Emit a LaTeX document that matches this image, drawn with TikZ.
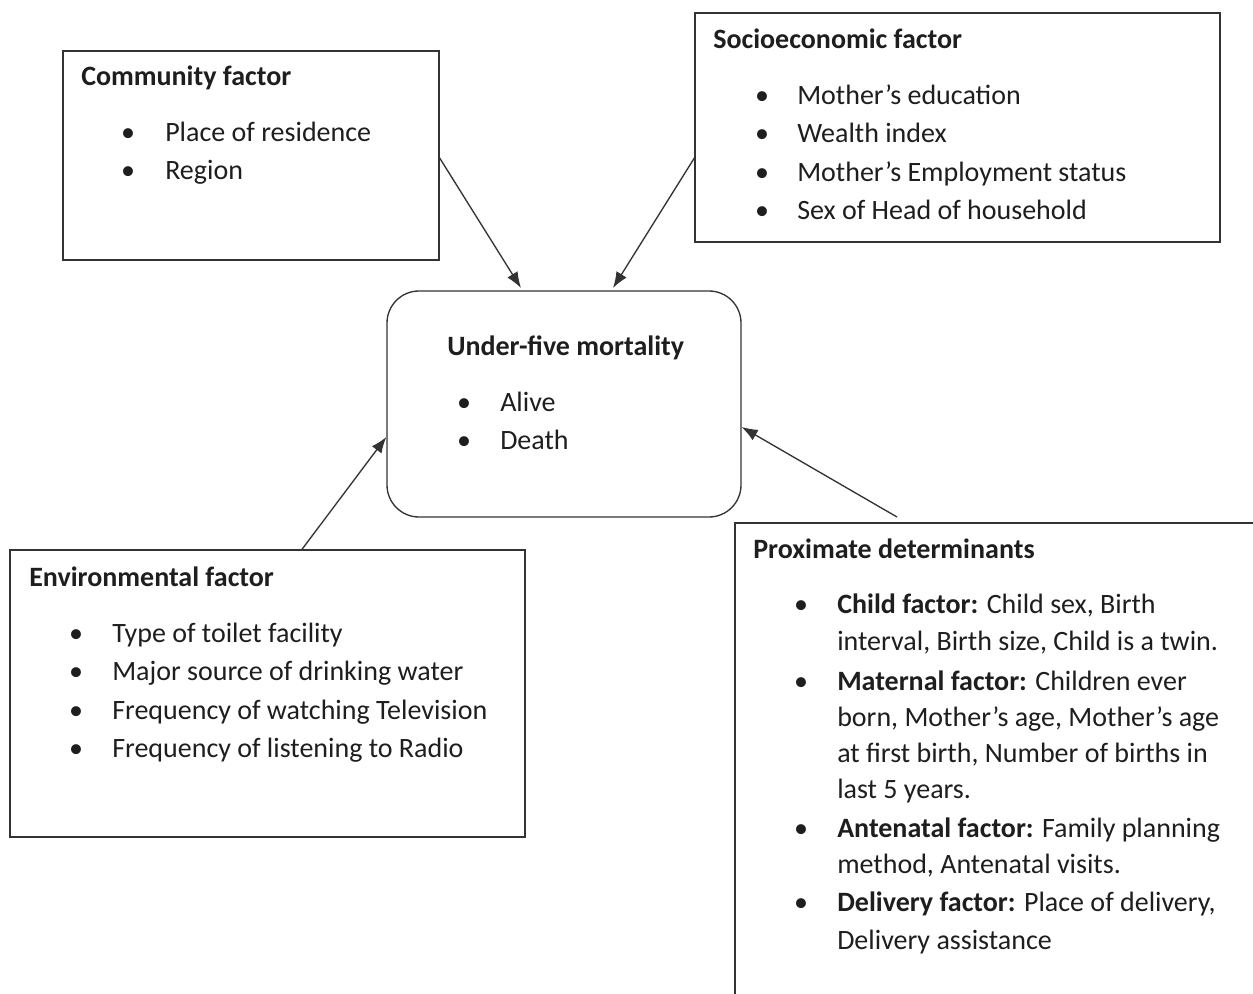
\documentclass[tikz,border=0pt]{standalone}
\usepackage{fontspec}
\setmainfont{Carlito}
\usetikzlibrary{fit,arrows.meta}
\definecolor{ln}{HTML}{333333}
\definecolor{tx}{HTML}{1E1E1E}
\begin{document}
\begin{tikzpicture}[x=0.75pt,y=-0.75pt,
  box/.style={draw=ln,line width=1pt,inner sep=0pt},
  rbox/.style={box,rounded corners=24pt},
  txt/.style={anchor=base west,inner sep=0pt,text=tx,font=\fontsize{21}{26}\selectfont},
  ttl/.style={txt,font=\fontsize{21}{26}\selectfont\bfseries},
  bul/.style={anchor=base,inner sep=0pt,text=tx,font=\fontsize{21}{26}\selectfont},
  arr/.style={draw=ln,line width=1pt,-{Latex[length=12pt,width=9pt]}}]
\useasboundingbox (0,0) rectangle (1253,994);
\clip (0,0) rectangle (1253,994);
\fill[white] (0,0) rectangle (1253,994);

% boxes
\node[box,fit={(63,51) (439,260)}] (comm) {};
\node[box,fit={(695,13) (1220,242)}] (soc) {};
\node[rbox,fit={(387,291) (741,517)}] (u5) {};
\node[box,fit={(10,550) (525,837)}] (env) {};
\node[box,fit={(735,523) (1290,1030)}] (prox) {};

% community
\node[ttl] (commT) at (81,86) {Community factor};
\node[bul] (commB1) at (128,142) {•};
\node[txt] (comm1) at (165,142) {Place of residence};
\node[bul] (commB2) at (128,180) {•};
\node[txt] (comm2) at (165,180) {Region};

% socioeconomic
\node[ttl] (socT) at (713,49) {Socioeconomic factor};
\node[bul] (socB1) at (762,105) {•};
\node[txt] (soc1) at (797,105) {Mother’s education};
\node[bul] (socB2) at (762,143) {•};
\node[txt] (soc2) at (797,143) {Wealth index};
\node[bul] (socB3) at (762,182) {•};
\node[txt] (soc3) at (797,182) {Mother’s Employment status};
\node[bul] (socB4) at (762,220) {•};
\node[txt] (soc4) at (797,220) {Sex of Head of household};

% under-five
\node[ttl] (u5T) at (447,356) {Under-five mortality};
\node[bul] (u5B1) at (464,412) {•};
\node[txt] (u51) at (500,412) {Alive};
\node[bul] (u5B2) at (464,450) {•};
\node[txt] (u52) at (500,450) {Death};

% environmental
\node[ttl] (envT) at (29,586) {Environmental factor};
\node[bul] (envB1) at (76,642) {•};
\node[txt] (env1) at (112,642) {Type of toilet facility};
\node[bul] (envB2) at (76,680) {•};
\node[txt] (env2) at (112,680) {Major source of drinking water};
\node[bul] (envB3) at (76,719) {•};
\node[txt] (env3) at (112,719) {Frequency of watching Television};
\node[bul] (envB4) at (76,757) {•};
\node[txt] (env4) at (112,757) {Frequency of listening to Radio};

% proximate
\node[ttl] (proxT) at (753,558) {Proximate determinants};
\node[bul] (proxB1) at (801,614) {•};
\node[txt] (prox1) at (837,614) {\textbf{Child factor:} Child sex, Birth};
\node[txt] (prox2) at (837,650) {interval, Birth size, Child is a twin.};
\node[bul] (proxB2) at (801,690) {•};
\node[txt] (prox3) at (837,690) {\textbf{Maternal factor:} Children ever};
\node[txt] (prox4) at (837,726) {born, Mother’s age, Mother’s age};
\node[txt] (prox5) at (837,762) {at first birth, Number of births in};
\node[txt] (prox6) at (837,798) {last 5 years.};
\node[bul] (proxB3) at (801,837) {•};
\node[txt] (prox7) at (837,837) {\textbf{Antenatal factor:} Family planning};
\node[txt] (prox8) at (837,873) {method, Antenatal visits.};
\node[bul] (proxB4) at (801,911) {•};
\node[txt] (prox9) at (837,911) {\textbf{Delivery factor:} Place of delivery,};
\node[txt] (prox10) at (837,949) {Delivery assistance};

% connector anchor points
\coordinate (a1s) at (440,158);
\coordinate (a1e) at (521,288);
\coordinate (a2s) at (692,158);
\coordinate (a2e) at (613,288);
\coordinate (a3s) at (302,548);
\coordinate (a3e) at (386,437);
\coordinate (a4s) at (897,517);
\coordinate (a4e) at (742,427);

\draw[arr] (comm.east |- a1s) -- (a1e);
\draw[arr] (soc.west |- a2s) -- (a2e);
\draw[arr] (env.north -| a3s) -- (u5.west |- a3e);
\draw[arr] (a4s) -- (u5.east |- a4e);
\end{tikzpicture}
\end{document}
